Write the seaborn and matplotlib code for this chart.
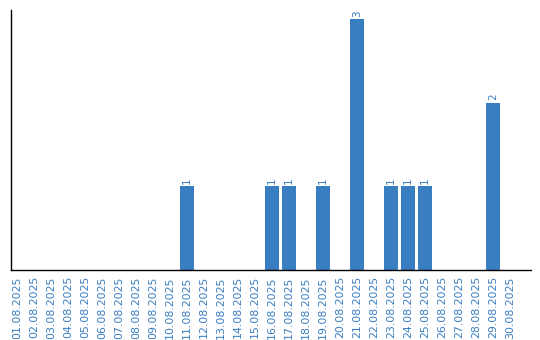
import matplotlib
matplotlib.use("Agg")
import matplotlib.pyplot as plt
import seaborn as sns
import pandas as pd

dates = [f"{d:02d}.08.2025" for d in range(1, 31)]
counts = [0, 0, 0, 0, 0, 0, 0, 0, 0, 0,
          1, 0, 0, 0, 0, 1, 1, 0, 1, 0,
          3, 0, 1, 1, 1, 0, 0, 0, 2, 0]

BLUE = "#3a7ec2"

sns.set_theme(style="white")
plt.rcParams['font.family'] = ['DejaVu Sans']

df = pd.DataFrame({"date": dates, "count": counts})

fig = plt.figure(figsize=(5.4, 3.4), dpi=100)
ax = fig.add_axes([10.5 / 540, 70 / 340, (531 - 10.5) / 540, 260 / 340])

sns.barplot(data=df, x="date", y="count", color=BLUE, saturation=1,
            width=0.82, linewidth=0, edgecolor=BLUE, ax=ax, order=dates)

for p, v in zip(ax.patches, counts):
    if v > 0:
        ax.text(p.get_x() + p.get_width() / 2, p.get_height() + 0.03, str(v),
                rotation=90, ha="center", va="bottom", fontsize=7.5, color=BLUE)

ax.set_xlim(-0.38, 30.24)
ax.set_ylim(0, 3.11)
ax.set_xlabel("")
ax.set_ylabel("")
ax.set_yticks([])
ax.tick_params(axis="x", length=0, pad=4.5, labelsize=7.9, labelcolor=BLUE)
for lbl in ax.get_xticklabels():
    lbl.set_rotation(90)
    lbl.set_va("top")
    lbl.set_ha("center")

for s in ["top", "right"]:
    ax.spines[s].set_visible(False)
for s in ["left", "bottom"]:
    ax.spines[s].set_color("black")
    ax.spines[s].set_linewidth(1.0)

fig.savefig("out.png", dpi=100)
